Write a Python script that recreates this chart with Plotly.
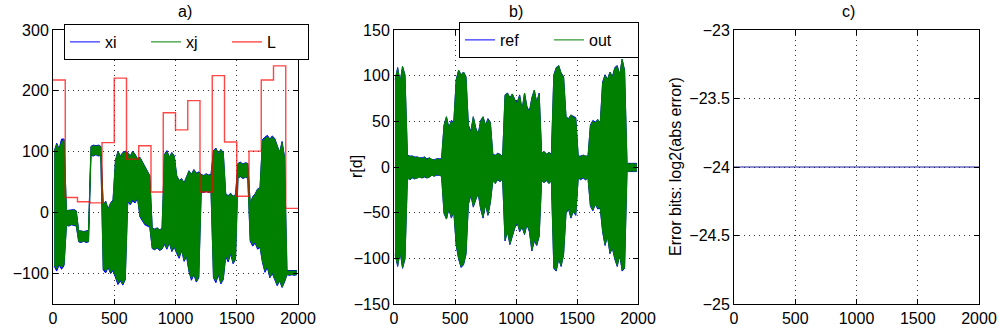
import numpy as np
import plotly.graph_objects as go

# ---------------- data ----------------
# sample index of each 20-sample bin (centre)
bin_centers = np.arange(10, 2000, 20)

# panel a) envelopes of xi (blue) and xj (green) per 20-sample bin
xj_hi = [100, 112, 104, 116, 120,  2, 4, 3, 5, 2,  -31, -30, -32, -31, -30,  108, 110, 109, 110, 108,
         12, 18, 5, 15, 20,  85, 100, 92, 98, 100,  98, 92, 100, 95, 88,  90, 82, 75, 68, 60,
         -26, -28, -25, -29, -27,  95, 100, 90, 98, 92,  60, 52, 55, 48, 58,  68, 62, 70, 64, 66,
         62, 60, 63, 61, 62,  100, 105, 96, 103, 98,  30, 27, 31, 26, 29,  80, 82, 79, 81, 80,
         15, 25, 30, 38, 40,  118, 122, 125, 120, 124,  120, 110, 98, 115, 90,  -96, -96, -97, -96, -96]
xj_lo = [-86, -92, -84, -90, -85,  -20, -21, -19, -20, -21,  -47, -48, -46, -48, -47,  95, 94, 96, 94, 95,
         -92, -96, -88, -98, -93,  -105, -115, -110, -117, -108,  20, 15, 22, 18, 25,  -5, -12, -18, -20, -22,
         -58, -60, -57, -61, -59,  -50, -58, -48, -62, -55,  -65, -72, -60, -78, -70,  -95, -108, -100, -112, -105,
         35, 34, 36, 34, 35,  -105, -112, -100, -115, -108,  -70, -78, -66, -82, -75,  58, 60, 57, 59, 58,
         -45, -52, -48, -58, -55,  -80, -95, -88, -105, -98,  -108, -118, -110, -122, -112,  -101, -102, -101, -102, -101]
xi_hi = [101, 114, 105, 121, 121,  3, 4, 4, 5, 3,  -30, -30, -31, -30, -29,  109, 111, 110, 111, 109,
         13, 19, 6, 16, 21,  86, 101, 93, 99, 101,  99, 93, 101, 96, 89,  91, 83, 76, 69, 61,
         -25, -27, -25, -28, -26,  96, 102, 91, 99, 93,  61, 53, 56, 49, 59,  69, 63, 71, 65, 67,
         63, 61, 64, 62, 63,  102, 106, 97, 104, 99,  31, 28, 32, 27, 30,  81, 83, 80, 82, 81,
         16, 26, 31, 39, 41,  120, 124, 127, 121, 126,  122, 112, 99, 117, 92,  -95, -95, -96, -95, -95]
xi_lo = [-88, -96, -86, -93, -87,  -21, -22, -20, -21, -22,  -48, -49, -47, -49, -48,  94, 93, 95, 93, 94,
         -94, -99, -90, -100, -95,  -108, -118, -112, -119, -110,  18, 13, 19, 16, 23,  -7, -14, -20, -22, -24,
         -59, -61, -58, -62, -60,  -52, -60, -50, -64, -57,  -67, -75, -62, -80, -72,  -97, -111, -102, -114, -107,
         34, 33, 35, 33, 34,  -107, -115, -102, -117, -110,  -72, -81, -68, -84, -77,  57, 59, 56, 58, 57,
         -47, -55, -50, -60, -57,  -82, -98, -90, -107, -100,  -110, -120, -112, -123, -114,  -102, -103, -102, -103, -102]

# panel a) L, one value per 100-sample segment
L_edges = list(range(0, 2001, 100))
L_vals = [218, 25, 18, 16, 115, 221, 88, 110, 34, 164,
          136, 184, 34, 225, 116, 27, 101, 218, 241, 7]

# panel b) envelopes of r[d]: ref (blue) and out (green)
out_hi = [95, 108, 92, 110, 100,  13, 11, 12, 10, 11,  10, 9, 11, 8, 10,  8, 7, 9, 8, 9,
          45, 55, 42, 50, 48,  95, 106, 100, 104, 98,  45, 38, 55, 42, 35,  50, 55, 45, 52, 48,
          14, 12, 15, 13, 11,  78, 81, 75, 80, 73,  70, 78, 62, 81, 65,  60, 75, 84, 70, 80,
          15, 17, 14, 16, 13,  100, 108, 111, 102, 98,  55, 52, 57, 54, 53,  12, 11, 13, 12, 11,
          45, 50, 48, 52, 46,  92, 100, 95, 104, 98,  108, 110, 100, 118, 105,  4, 3, 4, 3, 4]
out_lo = [-95, -108, -92, -110, -100,  -12, -14, -11, -13, -12,  -11, -12, -10, -12, -11,  -9, -10, -8, -9, -10,
          -50, -57, -45, -55, -48,  -85, -100, -109, -106, -95,  -40, -30, -43, -35, -28,  -45, -55, -40, -52, -38,
          -15, -18, -13, -16, -12,  -80, -70, -84, -75, -66,  -60, -70, -65, -73, -62,  -70, -91, -80, -85, -75,
          -15, -17, -14, -18, -15,  -110, -113, -100, -108, -95,  -50, -45, -55, -48, -52,  -12, -13, -11, -14, -12,
          -42, -47, -40, -45, -44,  -70, -85, -75, -94, -88,  -100, -108, -95, -113, -110,  -4, -5, -4, -5, -4]
ref_hi = [96, 109, 93, 110, 101,  13, 12, 12, 11, 11,  10, 10, 11, 9, 10,  8, 8, 9, 9, 9,
          46, 55, 43, 51, 49,  96, 106, 101, 104, 99,  46, 39, 55, 43, 36,  51, 55, 46, 53, 49,
          14, 13, 15, 14, 11,  79, 81, 76, 80, 74,  71, 79, 63, 81, 66,  61, 76, 84, 71, 81,
          15, 17, 14, 16, 14,  101, 109, 111, 103, 99,  55, 53, 57, 55, 54,  12, 12, 13, 12, 12,
          46, 51, 49, 52, 47,  93, 101, 96, 104, 99,  109, 111, 101, 118, 106,  4, 4, 4, 4, 4]
ref_lo = [-96, -109, -93, -111, -101,  -12, -14, -12, -13, -12,  -11, -12, -11, -12, -11,  -9, -10, -9, -9, -10,
          -51, -57, -46, -56, -49,  -86, -101, -110, -107, -96,  -41, -31, -44, -36, -29,  -46, -56, -41, -53, -39,
          -15, -18, -14, -16, -13,  -81, -71, -85, -76, -67,  -61, -71, -66, -74, -63,  -71, -92, -81, -86, -76,
          -15, -17, -15, -18, -15,  -111, -114, -101, -109, -96,  -51, -46, -56, -49, -53,  -12, -14, -12, -14, -12,
          -43, -48, -41, -46, -45,  -71, -86, -76, -95, -89,  -101, -109, -96, -114, -111,  -5, -5, -5, -5, -5]

# panel c) error bits
err_x = [0, 2000]
err_bits = [-24, -24]

# tick labels
a_ticks = [-100, 0, 100, 200, 300]
a_ticktext = ["\u2212100", "0", "100", "200", "300"]
b_ticks = [-150, -100, -50, 0, 50, 100, 150]
b_ticktext = ["\u2212150", "\u2212100", "\u221250", "0", "50", "100", "150"]
c_ticks = [-25, -24.5, -24, -23.5, -23]
c_ticktext = ["\u221225", "\u221224.5", "\u221224", "\u221223.5", "\u221223"]
x_ticks = [0, 500, 1000, 1500, 2000]

BLUE = "#0000ff"
GREEN = "#008000"
RED = "rgba(255,0,0,0.72)"
FONT = "Liberation Sans, Arial, sans-serif"

fig = go.Figure()

# ---- panel a
fig.add_trace(go.Scatter(x=bin_centers, y=xi_hi, mode="lines", line=dict(color=BLUE, width=1),
                         name="xi", legend="legend", xaxis="x", yaxis="y"))
fig.add_trace(go.Scatter(x=bin_centers, y=xi_lo, mode="lines", line=dict(color=BLUE, width=1),
                         fill="tonexty", fillcolor=BLUE, showlegend=False, xaxis="x", yaxis="y"))
fig.add_trace(go.Scatter(x=bin_centers, y=xj_hi, mode="lines", line=dict(color=GREEN, width=1),
                         name="xj", legend="legend", xaxis="x", yaxis="y"))
fig.add_trace(go.Scatter(x=bin_centers, y=xj_lo, mode="lines", line=dict(color=GREEN, width=1),
                         fill="tonexty", fillcolor=GREEN, showlegend=False, xaxis="x", yaxis="y"))
fig.add_trace(go.Scatter(x=L_edges, y=L_vals + [L_vals[-1]], mode="lines", line_shape="hv",
                         line=dict(color=RED, width=1.4), name="L", legend="legend",
                         xaxis="x", yaxis="y"))

# ---- panel b
fig.add_trace(go.Scatter(x=bin_centers, y=ref_hi, mode="lines", line=dict(color=BLUE, width=1),
                         name="ref", legend="legend2", xaxis="x2", yaxis="y2"))
fig.add_trace(go.Scatter(x=bin_centers, y=ref_lo, mode="lines", line=dict(color=BLUE, width=1),
                         fill="tonexty", fillcolor=BLUE, showlegend=False, xaxis="x2", yaxis="y2"))
fig.add_trace(go.Scatter(x=bin_centers, y=out_hi, mode="lines", line=dict(color=GREEN, width=1),
                         name="out", legend="legend2", xaxis="x2", yaxis="y2"))
fig.add_trace(go.Scatter(x=bin_centers, y=out_lo, mode="lines", line=dict(color=GREEN, width=1),
                         fill="tonexty", fillcolor=GREEN, showlegend=False, xaxis="x2", yaxis="y2"))

# ---- panel c
fig.add_trace(go.Scatter(x=err_x, y=err_bits, mode="lines", line=dict(color="#1a1aa0", width=1),
                         showlegend=False, xaxis="x3", yaxis="y3"))

W, H = 1000, 334
ydom = [1 - 304 / H, 1 - 30 / H]
GRID = "#333333"

def xax(l, r, anchor):
    return dict(domain=[l / W, r / W], range=[0, 2000], anchor=anchor, tickvals=x_ticks,
                showline=True, linecolor="black", linewidth=1, mirror="ticks",
                ticks="inside", ticklen=5, tickcolor="black",
                showgrid=True, gridcolor=GRID, griddash="1px,4px", gridwidth=1,
                zeroline=False, automargin=False,
                tickfont=dict(family=FONT, size=16, color="black"))

def yax(anchor, rng, tv, tt):
    return dict(domain=ydom, range=rng, anchor=anchor, tickvals=tv, ticktext=tt,
                showline=True, linecolor="black", linewidth=1, mirror="ticks",
                ticks="inside", ticklen=5, tickcolor="black",
                showgrid=True, gridcolor=GRID, griddash="1px,4px", gridwidth=1,
                zeroline=False, automargin=False,
                tickfont=dict(family=FONT, size=16, color="black"))

fig.update_layout(
    width=W, height=H,
    margin=dict(l=0, r=0, t=0, b=0),
    paper_bgcolor="white", plot_bgcolor="white",
    font=dict(family=FONT, size=16, color="black"),
    xaxis=xax(53, 298, "y"), yaxis=yax("x", [-150, 300], a_ticks, a_ticktext),
    xaxis2=xax(394, 638, "y2"), yaxis2=yax("x2", [-150, 150], b_ticks, b_ticktext),
    xaxis3=xax(734, 979, "y3"), yaxis3=yax("x3", [-25, -23], c_ticks, c_ticktext),
    legend=dict(orientation="h", x=64 / W, y=1 - 24 / H, xanchor="left", yanchor="top",
                traceorder="normal",
                bgcolor="white", bordercolor="black", borderwidth=1,
                font=dict(family=FONT, size=16, color="black"),
                entrywidth=36, itemwidth=30),
    legend2=dict(orientation="h", x=459 / W, y=1 - 22 / H, xanchor="left", yanchor="top",
                 traceorder="normal",
                 bgcolor="white", bordercolor="black", borderwidth=1,
                 font=dict(family=FONT, size=16, color="black"),
                 entrywidth=44, itemwidth=30),
    annotations=[
        dict(text="a)", x=175.5 / W, y=1 - 12 / H, xref="paper", yref="paper", yanchor="middle",
             showarrow=False, font=dict(size=16)),
        dict(text="b)", x=516 / W, y=1 - 12 / H, xref="paper", yref="paper", yanchor="middle",
             showarrow=False, font=dict(size=16)),
        dict(text="c)", x=856.5 / W, y=1 - 12 / H, xref="paper", yref="paper", yanchor="middle",
             showarrow=False, font=dict(size=16)),
        dict(text="r[d]", x=356 / W, y=1 - 167 / H, xref="paper", yref="paper",
             xanchor="center", yanchor="middle",
             showarrow=False, textangle=-90, font=dict(size=16)),
        dict(text="Error bits: log2(abs error)", x=675 / W, y=1 - 167 / H, xref="paper",
             yref="paper", xanchor="center", yanchor="middle",
             showarrow=False, textangle=-90, font=dict(size=16)),
    ],
)

fig.write_html("out.html", config={"displayModeBar": False},
               post_script="document.body.style.margin='0';document.body.style.padding='0';"
                           "document.body.style.overflow='hidden';")
